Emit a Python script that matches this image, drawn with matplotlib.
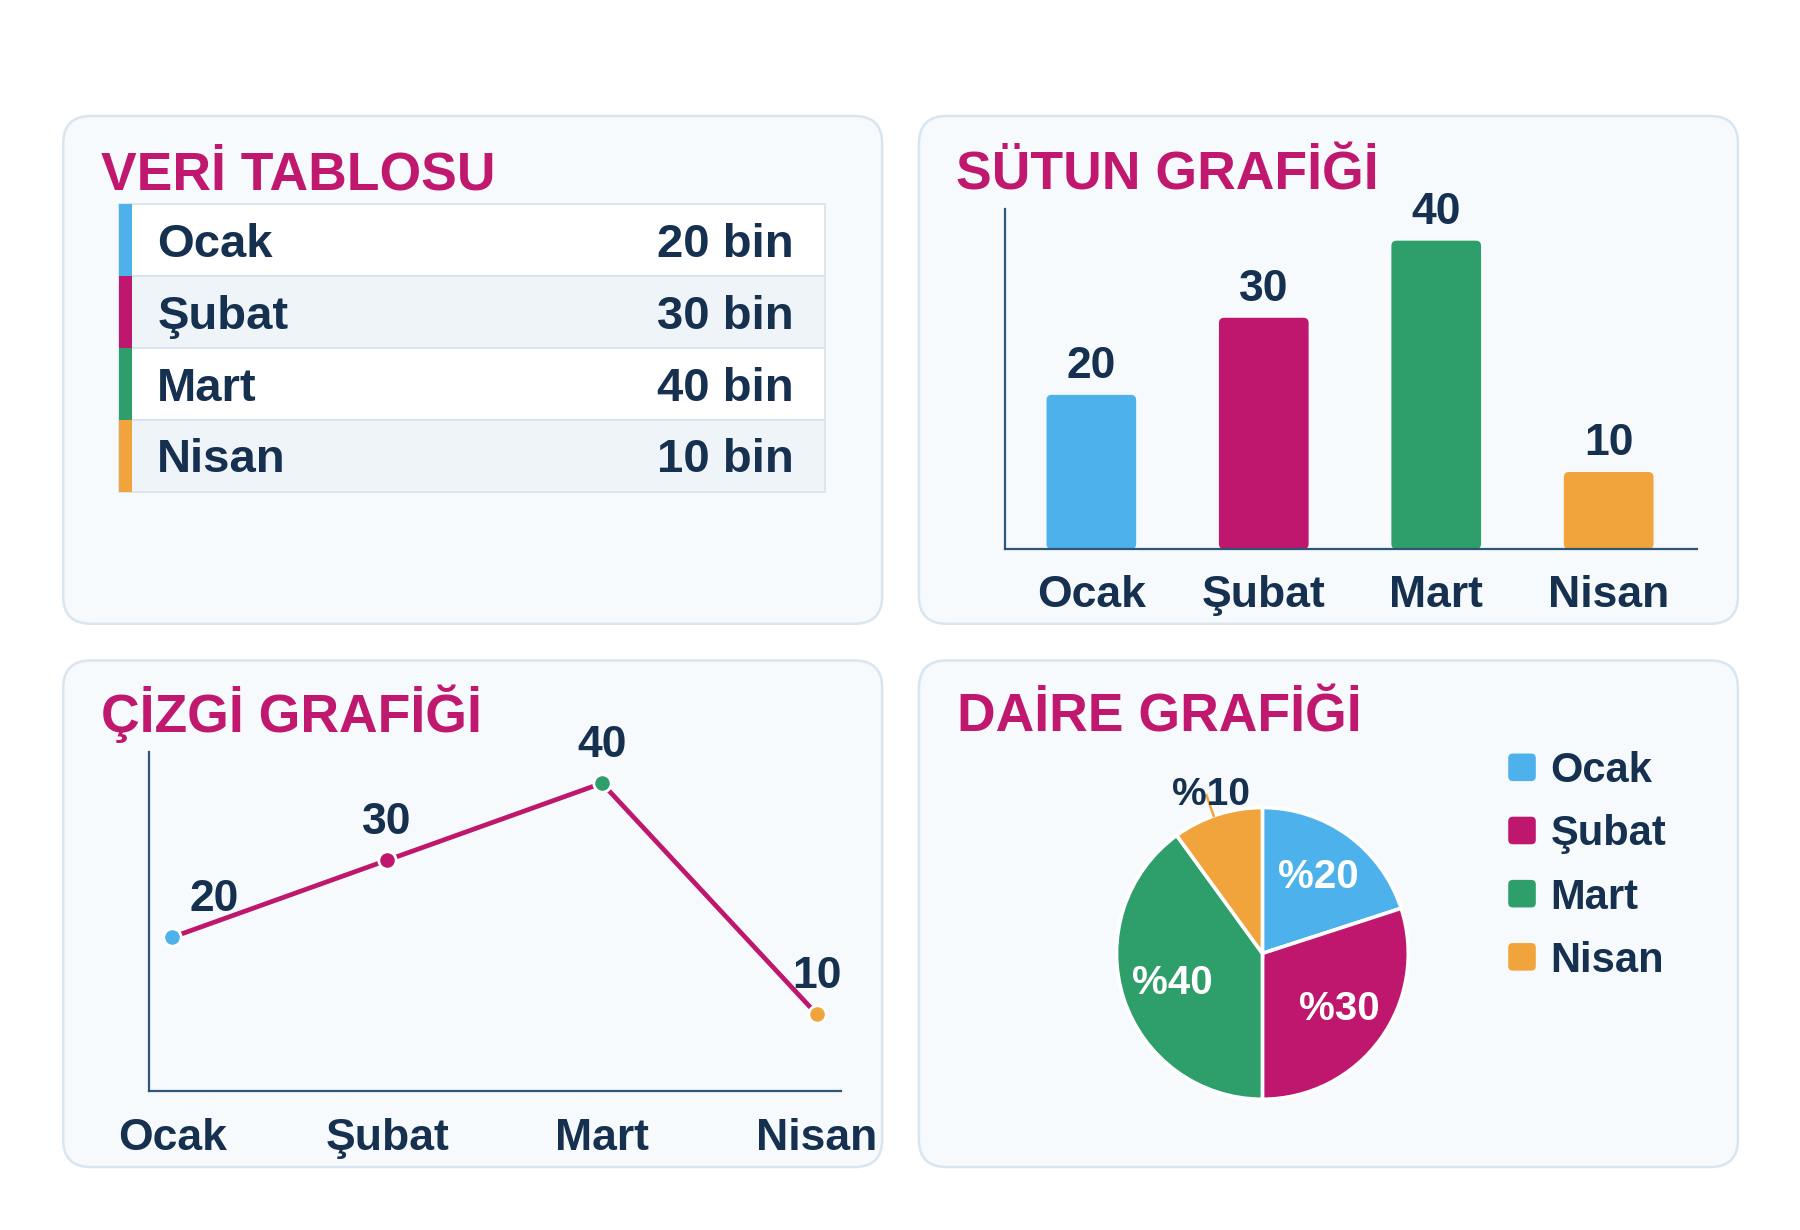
import matplotlib
matplotlib.use("Agg")
import matplotlib.pyplot as plt
from matplotlib.patches import FancyBboxPatch, Rectangle
import numpy as np

plt.rcParams['font.family'] = ['Liberation Sans', 'DejaVu Sans']
plt.rcParams['font.weight'] = 'bold'

# ---------------- data ----------------
categories = ["Ocak", "Şubat", "Mart", "Nisan"]
values = [20, 30, 40, 10]
table_values = ["20 bin", "30 bin", "40 bin", "10 bin"]
pie_labels = ["%20", "%30", "%40", "%10"]
titles = ["VERİ TABLOSU", "SÜTUN GRAFİĞİ", "ÇİZGİ GRAFİĞİ", "DAİRE GRAFİĞİ"]
colors = ["#4db2ec", "#be176d", "#2e9e6a", "#f1a43b"]

TITLE_C = "#c0186e"
TEXT_C = "#16304f"
AXIS_C = "#2e5676"
PANEL_FC = "#f6fafd"
PANEL_EC = "#d9e5ef"

W, H = 1567.0, 1070.8
fig = plt.figure(figsize=(18, 12.3), dpi=100)
fig.patch.set_facecolor("white")


def frac(x0, y0, x1, y1):
    return [x0 / W, 1 - y1 / H, (x1 - x0) / W, (y1 - y0) / H]


bg = fig.add_axes([0, 0, 1, 1])
bg.set_xlim(0, W)
bg.set_ylim(H, 0)
bg.axis("off")

# panels
panels = [(55, 101, 768, 543), (800, 101, 1513, 543), (55, 575, 768, 1016), (800, 575, 1513, 1016)]
title_pos = [(88, 165), (832, 165), (88, 637), (833, 637)]
for (x0, y0, x1, y1), t, (tx, ty) in zip(panels, titles, title_pos):
    p = FancyBboxPatch((x0, y0), x1 - x0, y1 - y0, boxstyle="round,pad=0,rounding_size=24",
                       fc=PANEL_FC, ec=PANEL_EC, lw=1.8, zorder=1)
    bg.add_patch(p)
    bg.text(tx, ty, t, color=TITLE_C, fontsize=38.5, fontweight='bold', ha='left', va='baseline', zorder=3)

# ---------------- table ----------------
row_top = 178.0
row_h = 62.5
tx0, tx1 = 104, 718
for i, (cat, tv, c) in enumerate(zip(categories, table_values, colors)):
    y = row_top + i * row_h
    fc = "white" if i % 2 == 0 else "#eef4f8"
    bg.add_patch(Rectangle((tx0, y), tx1 - tx0, row_h, fc=fc, ec="#d6e3ec", lw=1.2, zorder=2))
    bg.add_patch(Rectangle((tx0, y), 11, row_h, fc=c, ec='none', zorder=3))
    yb = y + row_h / 2 + 14.5
    bg.text(137, yb, cat, color=TEXT_C, fontsize=34, fontweight='bold', ha='left', va='baseline', zorder=4)
    bg.text(691, yb, tv, color=TEXT_C, fontsize=34, fontweight='bold', ha='right', va='baseline', zorder=4)

# ---------------- bar chart ----------------
bx0, by0, bx1, by1 = 875, 182, 1477, 478
axb = fig.add_axes(frac(bx0, by0, bx1, by1))
axb.set_facecolor('none')
xlim_b = (-0.5, 3.51)
ylim_b = (0, 44.1)
axb.set_xlim(*xlim_b)
axb.set_ylim(*ylim_b)
for s in ["top", "right"]:
    axb.spines[s].set_visible(False)
for s in ["left", "bottom"]:
    axb.spines[s].set_color(AXIS_C)
    axb.spines[s].set_linewidth(1.6)
axb.set_yticks([])
axb.set_xticks(range(len(categories)))
axb.set_xticklabels(categories, fontsize=32, fontweight='bold', color=TEXT_C)
axb.tick_params(axis='x', length=0, pad=19)
x = np.arange(len(categories))
bars = axb.bar(x, values, width=0.52, color=colors)
asp = ((ylim_b[1] - ylim_b[0]) / (by1 - by0)) / ((xlim_b[1] - xlim_b[0]) / (bx1 - bx0))
for b in bars:
    b.set_visible(False)
    rp = FancyBboxPatch((b.get_x(), b.get_y()), b.get_width(), b.get_height(),
                        boxstyle="round,pad=0,rounding_size=0.03", mutation_aspect=asp,
                        fc=b.get_facecolor(), ec='none', zorder=2)
    axb.add_patch(rp)
for xi, v in zip(x, values):
    axb.annotate(str(v), (xi, v), xytext=(0, 12), textcoords='offset points', ha='center', va='baseline',
                 fontsize=32, fontweight='bold', color=TEXT_C, annotation_clip=False)

# ---------------- line chart ----------------
lx0, ly0, lx1, ly1 = 130, 655, 732, 950
axl = fig.add_axes(frac(lx0, ly0, lx1, ly1))
axl.set_facecolor('none')
axl.set_xlim(-0.107, 3.112)
axl.set_ylim(0, 44)
for s in ["top", "right"]:
    axl.spines[s].set_visible(False)
for s in ["left", "bottom"]:
    axl.spines[s].set_color(AXIS_C)
    axl.spines[s].set_linewidth(1.6)
axl.set_yticks([])
axl.set_xticks(range(len(categories)))
axl.set_xticklabels(categories, fontsize=32, fontweight='bold', color=TEXT_C)
axl.tick_params(axis='x', length=0, pad=19)
axl.plot(x, values, color=colors[1], lw=3.4, zorder=2, clip_on=False)
for xi, v, c in zip(x, values, colors):
    axl.plot([xi], [v], marker='o', ms=12.5, mfc=c, mec='white', mew=2.0, zorder=3, clip_on=False)
label_dx = [30, 0, 0, 0]
for xi, v, dx in zip(x, values, label_dx):
    axl.annotate(str(v), (xi, v), xytext=(dx, 19), textcoords='offset points', ha='center', va='baseline',
                 fontsize=32, fontweight='bold', color=TEXT_C, annotation_clip=False)

# ---------------- pie chart ----------------
pcx, pcy, pr = 1099, 830, 127
lim = 1.3
axp = fig.add_axes(frac(pcx - lim * pr, pcy - lim * pr, pcx + lim * pr, pcy + lim * pr))
axp.set_facecolor('none')
wedges, _ = axp.pie(values, colors=colors, startangle=90, counterclock=False,
                    wedgeprops=dict(edgecolor='white', linewidth=2.6))
axp.set_xlim(-lim, lim)
axp.set_ylim(-lim, lim)
axp.set_aspect('equal')
axp.axis('off')
for i, (w, lab) in enumerate(zip(wedges, pie_labels)):
    ang = np.deg2rad((w.theta1 + w.theta2) / 2)
    if i < 3:
        axp.text(0.65 * np.cos(ang), 0.65 * np.sin(ang), lab, ha='center', va='center',
                 fontsize=29, fontweight='bold', color='white')
    else:
        la = np.deg2rad(np.rad2deg(ang) + 1.5)
        axp.plot([1.0 * np.cos(la), 1.15 * np.cos(la)], [1.0 * np.sin(la), 1.15 * np.sin(la)],
                 color=colors[3], lw=1.8, clip_on=False, zorder=1)
        axp.text(1.14 * np.cos(ang), 1.14 * np.sin(ang), lab, ha='center', va='center',
                 fontsize=28, fontweight='bold', color=TEXT_C, zorder=3)

# legend
leg_y = [668, 723, 778, 833]
for cat, c, ly in zip(categories, colors, leg_y):
    bg.add_patch(FancyBboxPatch((1313, ly - 12), 24, 24, boxstyle="round,pad=0,rounding_size=4",
                                fc=c, ec='none', zorder=3))
    bg.text(1350, ly + 13, cat, color=TEXT_C, fontsize=30, fontweight='bold', ha='left', va='baseline', zorder=3)

fig.savefig("out.png", dpi=100, facecolor="white")
